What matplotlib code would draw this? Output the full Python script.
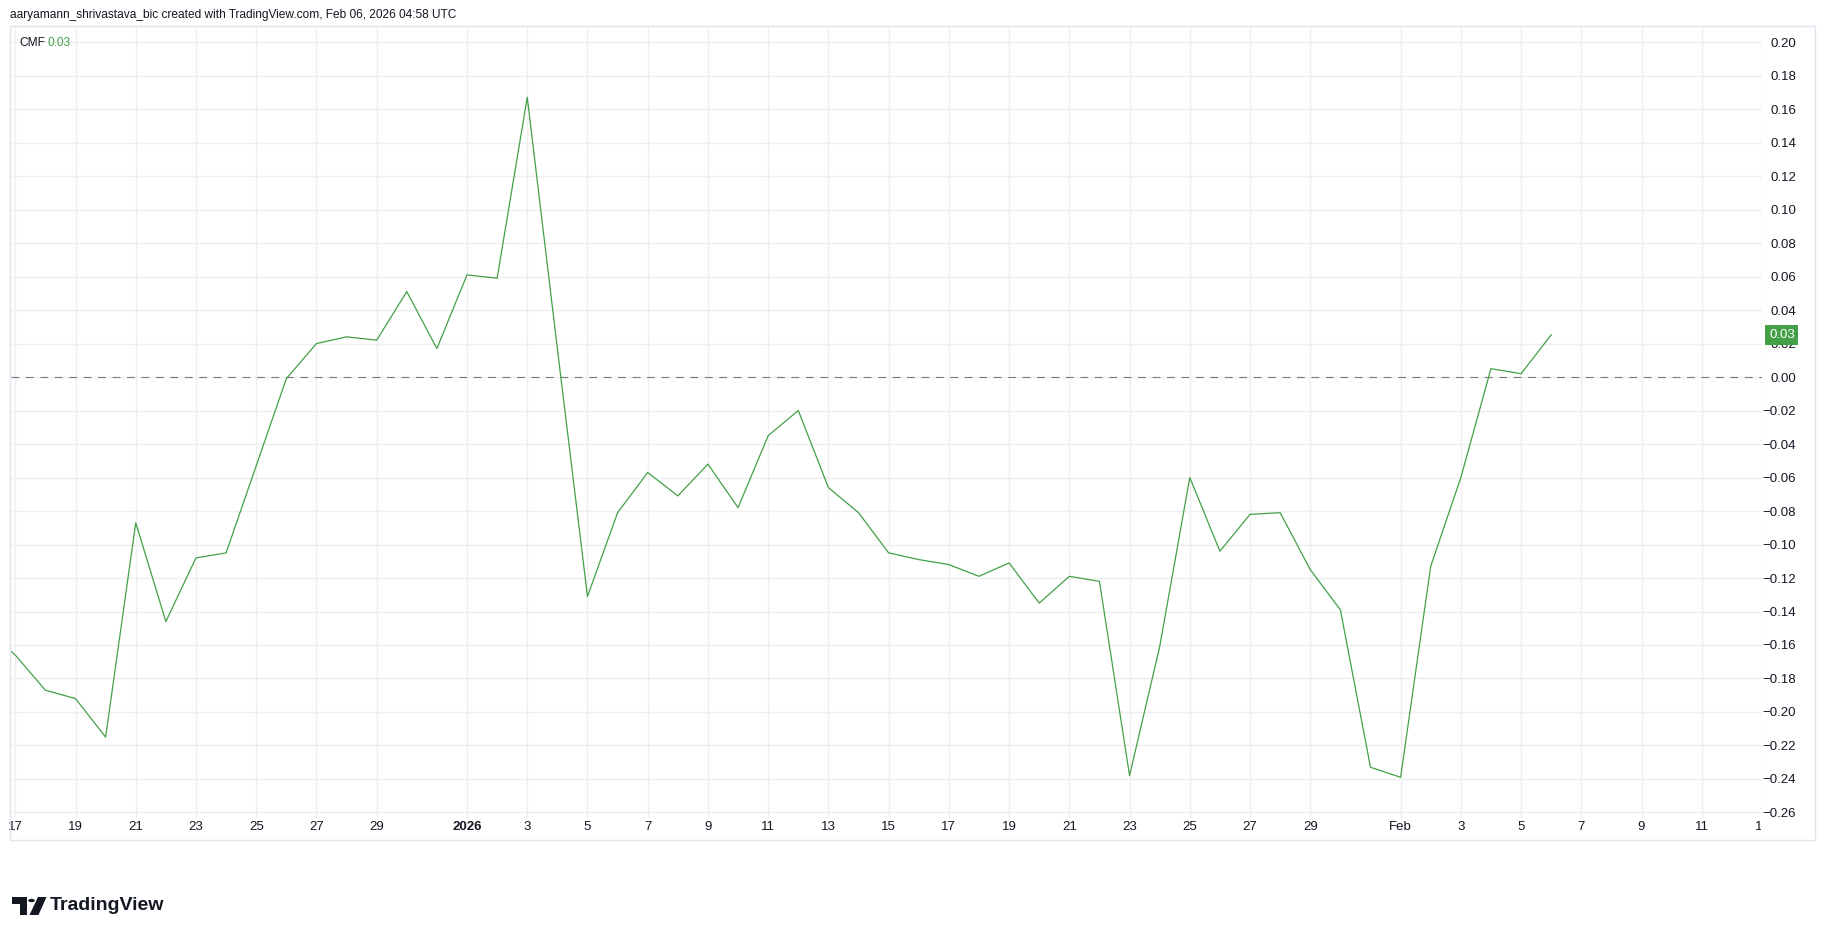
import numpy as np
import pandas as pd
import matplotlib
matplotlib.use("Agg")
import matplotlib.pyplot as plt
import matplotlib.dates as mdates
import matplotlib.transforms as mtransforms
from matplotlib.patches import Rectangle, Circle, Polygon

plt.rcParams['font.family'] = ['Liberation Sans', 'DejaVu Sans']

# daily CMF values, Dec 16 2025 .. Feb 6 2026
dates = pd.date_range("2025-12-16", "2026-02-06", freq="D")
cmf = [-0.150, -0.166, -0.187, -0.192, -0.215, -0.087, -0.146, -0.108,
       -0.105, -0.053, -0.001, 0.020, 0.024, 0.022, 0.051, 0.017,
       0.061, 0.059, 0.167, 0.017, -0.131, -0.081, -0.057, -0.071,
       -0.052, -0.078, -0.035, -0.020, -0.066, -0.081, -0.105, -0.109,
       -0.112, -0.119, -0.111, -0.135, -0.119, -0.122, -0.238, -0.161,
       -0.060, -0.104, -0.082, -0.081, -0.115, -0.139, -0.233, -0.239,
       -0.113, -0.060, 0.005, 0.002, 0.0252]

tick_dates = ["2025-12-17", "2025-12-19", "2025-12-21", "2025-12-23", "2025-12-25",
              "2025-12-27", "2025-12-29", "2026-01-01", "2026-01-03", "2026-01-05",
              "2026-01-07", "2026-01-09", "2026-01-11", "2026-01-13", "2026-01-15",
              "2026-01-17", "2026-01-19", "2026-01-21", "2026-01-23", "2026-01-25",
              "2026-01-27", "2026-01-29", "2026-02-01", "2026-02-03", "2026-02-05",
              "2026-02-07", "2026-02-09", "2026-02-11", "2026-02-13"]
tick_labels = ["17", "19", "21", "23", "25", "27", "29", "2026", "3", "5", "7", "9",
               "11", "13", "15", "17", "19", "21", "23", "25", "27", "29", "Feb",
               "3", "5", "7", "9", "11", "13"]
y_ticks = [-0.26, -0.24, -0.22, -0.20, -0.18, -0.16, -0.14, -0.12, -0.10, -0.08,
           -0.06, -0.04, -0.02, 0.00, 0.02, 0.04, 0.06, 0.08, 0.10, 0.12, 0.14,
           0.16, 0.18, 0.20]

green = '#43a047'
txt = '#131722'
grid = '#efefef'

W, H = 1825, 935
fig = plt.figure(figsize=(W / 100, H / 100), dpi=100)
fig.patch.set_facecolor('white')

L, R, T, B = 10.7, 1762, 26, 818
ax = fig.add_axes([L / W, 1 - B / H, (R - L) / W, (B - T) / H])

ax.plot(dates, cmf, color=green, lw=0.9, zorder=3)
ax.axhline(0, color='#787b86', lw=0.8, ls=(0, (7, 6)), zorder=2)

d0 = mdates.date2num(pd.Timestamp("2025-12-17"))
ax.set_xlim(d0 - 0.152, d0 + 57.84)
ax.set_ylim(-0.2633, 0.2096)

ax.set_xticks([mdates.date2num(pd.Timestamp(d)) for d in tick_dates])
ax.set_xticklabels(tick_labels)
ax.set_yticks(y_ticks)
ax.set_yticklabels([("%.2f" % v).replace("-", "\u2212") for v in y_ticks])
ax.yaxis.tick_right()
ax.tick_params(axis='both', length=0, colors=txt, labelsize=9.5)
ax.tick_params(axis='x', pad=2)
ax.tick_params(axis='y', pad=24.5)
for lb in ax.get_yticklabels():
    lb.set_horizontalalignment('right')
ax.grid(True, color=grid, lw=1, zorder=0)
for s in ax.spines.values():
    s.set_visible(False)

xl = ax.get_xticklabels()
xl[tick_labels.index("2026")].set_fontweight('bold')
# last label is cut by the price scale
clip = mtransforms.TransformedBbox(mtransforms.Bbox.from_bounds(0, 0, (R - 1) / W, 1), fig.transFigure)
xl[-1].set_clip_box(clip)
xl[-1].set_clip_on(True)

# current value tag on the price scale
last = cmf[-1]
trans = mtransforms.blended_transform_factory(ax.transAxes, ax.transData)
ax.text(1 + 7 / (R - L), last, "%.2f" % last, transform=trans, ha='left', va='center',
        color='white', fontsize=9.5, clip_on=False, zorder=5,
        bbox=dict(boxstyle='square,pad=0.28', fc=green, ec='none'))

# frame round the chart
fig.patches.append(Rectangle((10 / W, 1 - 840 / H), (1815 - 10) / W, (840 - 26) / H,
                             transform=fig.transFigure, fill=False, ec='#e0e3eb', lw=1))

fig.text(10 / W, 1 - 15 / H,
         "aaryamann_shrivastava_bic created with TradingView.com, Feb 06, 2026 04:58 UTC",
         fontsize=8.6, color=txt, va='center', ha='left')
fig.text(19 / W, 1 - 43 / H, "CMF", fontsize=8.6, color=txt, va='center')
fig.text(47 / W, 1 - 43 / H, "%.2f" % last, fontsize=8.6, color=green, va='center')

# TradingView logo
def fp(x, y):
    return (x / W, 1 - y / H)

fig.patches.append(Rectangle(fp(11.6, 903.5), 15.4 / W, 6.5 / H, transform=fig.transFigure,
                             fc=txt, ec='none'))
fig.patches.append(Rectangle(fp(20, 915), 7 / W, 18 / H, transform=fig.transFigure,
                             fc=txt, ec='none'))
fig.patches.append(Circle(fp(31.5, 900.5), 3.3 / W, transform=fig.transFigure,
                          fc=txt, ec='none'))
fig.patches.append(Polygon([fp(38, 897), fp(46.5, 897), fp(38.5, 915), fp(29.5, 915)],
                           closed=True, transform=fig.transFigure, fc=txt, ec='none'))
fig.text(50 / W, 1 - 906 / H, "TradingView", fontsize=14, fontweight='bold',
         color=txt, va='center', ha='left')

fig.savefig("out.png", dpi=100, facecolor='white')
